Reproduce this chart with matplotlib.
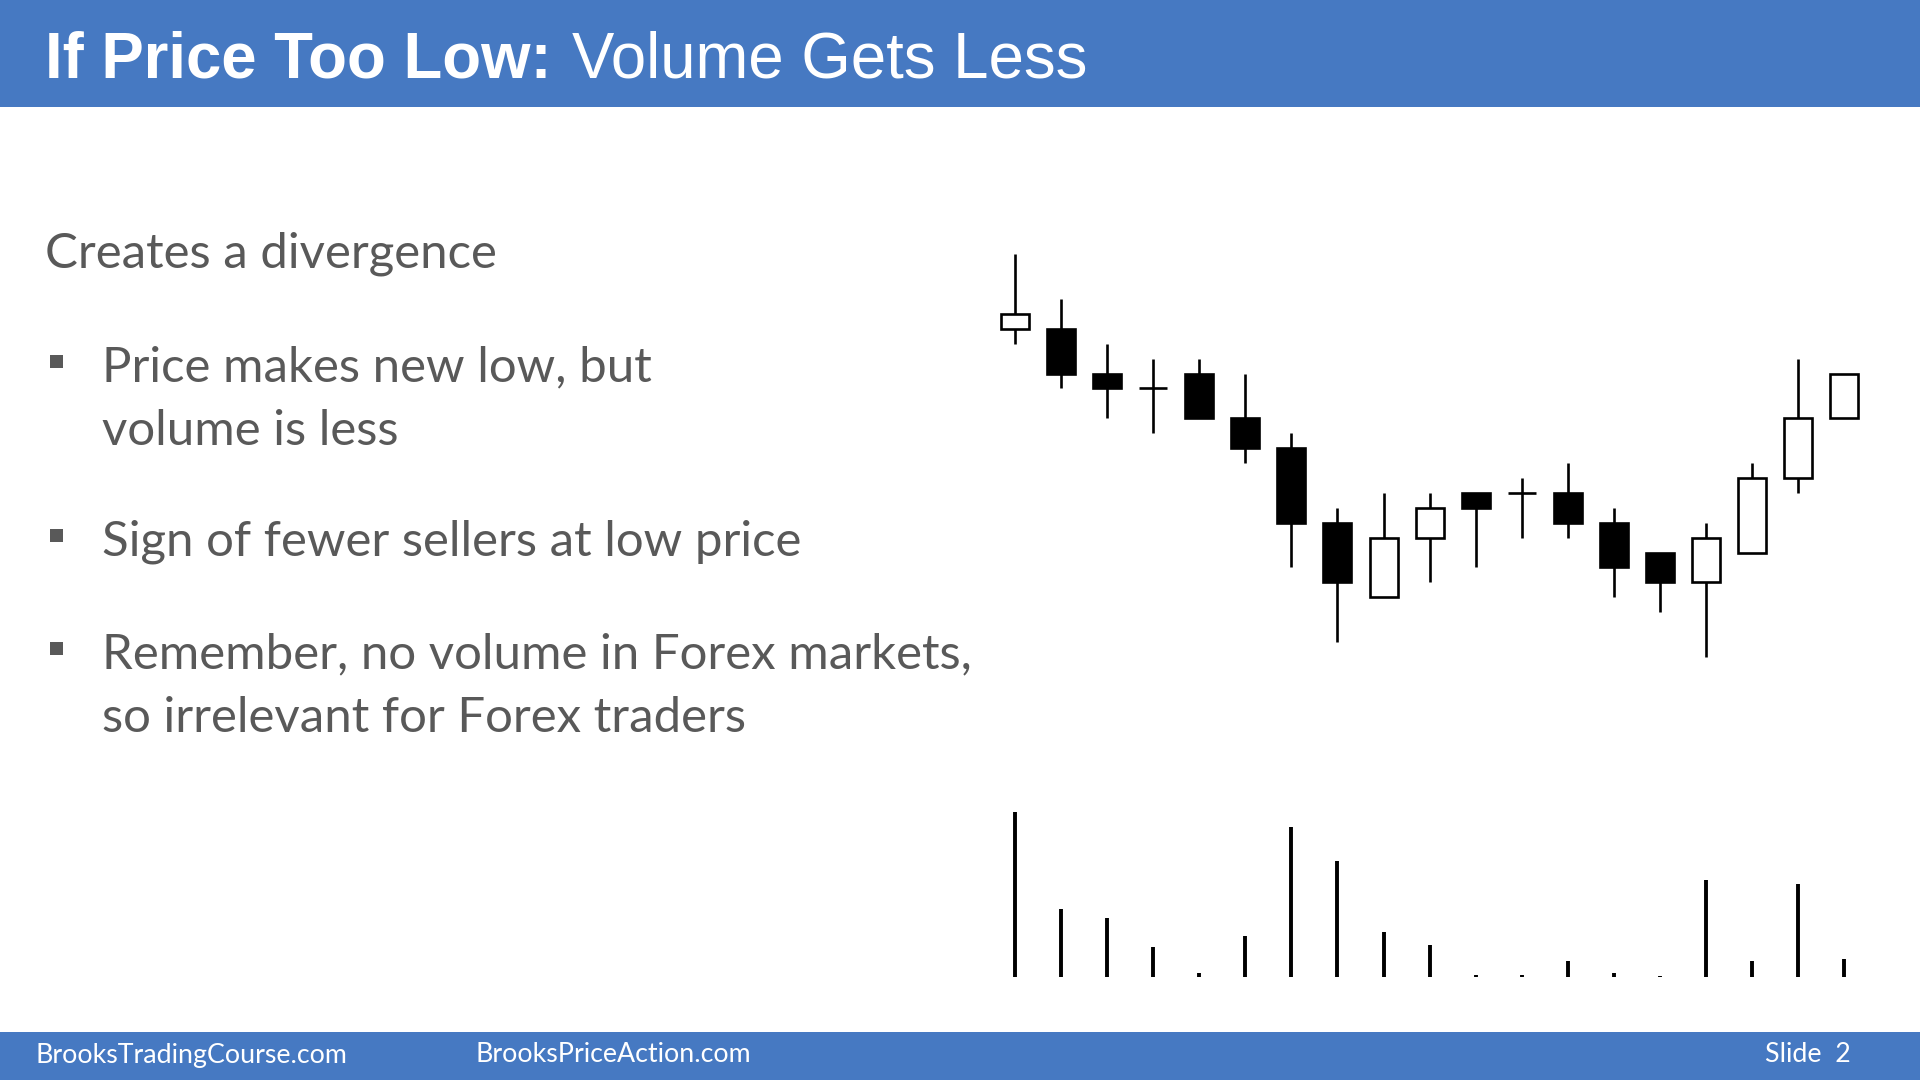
import matplotlib
matplotlib.use("Agg")
import matplotlib.pyplot as plt
from matplotlib.patches import Rectangle

# ---------------- data ----------------
opens  = [22, 22, 19, 18, 19, 16, 14, 9, 4, 8, 11, 11, 11, 9, 7, 5, 7, 12, 16]
highs  = [27, 24, 21, 20, 20, 19, 15, 10, 11, 11, 11, 12, 13, 10, 7, 9, 13, 20, 19]
lows   = [21, 18, 16, 15, 16, 13, 6, 1, 4, 5, 6, 8, 8, 4, 3, 0, 7, 11, 16]
closes = [23, 19, 18, 18, 16, 14, 9, 5, 8, 10, 10, 11, 9, 6, 5, 8, 12, 16, 19]
volumes = [165, 68, 59, 30, 4.3, 41, 150, 116, 45, 32, 2.3, 1.7, 16, 3.7, 0.7, 97, 16, 93, 18]

title_bold = "If Price Too Low:"
title_regular = "Volume Gets Less"
heading = "Creates a divergence"
bullets = [
    ["Price makes new low, but", "volume is less"],
    ["Sign of fewer sellers at low price"],
    ["Remember, no volume in Forex markets,", "so irrelevant for Forex traders"],
]
footer_left = "BrooksTradingCourse.com"
footer_mid = "BrooksPriceAction.com"
footer_right = "Slide  2"

# ---------------- style ----------------
W, H = 1920, 1080
BLUE = "#4679C2"
GREY = "#595959"
BODY_FONT = ["Lato", "DejaVu Sans"]
TITLE_FONT = ["Liberation Sans", "DejaVu Sans"]

fig = plt.figure(figsize=(W / 100, H / 100), dpi=100)
fig.patch.set_facecolor("white")
renderer = fig.canvas.get_renderer()


def fx(px):
    return px / W


def fy(py):  # py measured from top
    return 1 - py / H


def fit_size(txt, target_px):
    bb = txt.get_window_extent(renderer=renderer)
    txt.set_fontsize(txt.get_fontsize() * target_px / bb.width)


# header & footer bands
fig.add_artist(Rectangle((0, fy(107)), 1, 107 / H, transform=fig.transFigure,
                         facecolor=BLUE, edgecolor="none"))
fig.add_artist(Rectangle((0, 0), 1, 48 / H, transform=fig.transFigure,
                         facecolor=BLUE, edgecolor="none"))

# title
tb = fig.text(fx(45), fy(77), title_bold, color="white", fontsize=40,
              fontweight="bold", family=TITLE_FONT, va="baseline")
fit_size(tb, 551 - 45)
tr = fig.text(fx(572), fy(77), title_regular, color="white",
              fontsize=tb.get_fontsize(), family=TITLE_FONT, va="baseline")

# body text
body_size = 30
ref = fig.text(0, 0, bullets[2][0], fontsize=body_size, family=BODY_FONT)
bb = ref.get_window_extent(renderer=renderer)
body_size = body_size * 868 / bb.width
ref.remove()

fig.text(fx(45), fy(268), heading, color=GREY, fontsize=body_size,
         family=BODY_FONT, va="baseline")

baselines = [[381, 445], [555], [668, 732]]
for lines, bls in zip(bullets, baselines):
    # square bullet
    fig.add_artist(Rectangle((fx(50), fy(bls[0] - 13)), 13 / W, 13 / H,
                             transform=fig.transFigure, facecolor=GREY,
                             edgecolor="none"))
    for line, bl in zip(lines, bls):
        fig.text(fx(102), fy(bl), line, color=GREY, fontsize=body_size,
                 family=BODY_FONT, va="baseline")

# footer text
fl = fig.text(fx(35), fy(1055), footer_left, color="white", fontsize=16,
              family=BODY_FONT, va="center")
fit_size(fl, 312)
fm = fig.text(fx(475), fy(1055), footer_mid, color="white",
              fontsize=fl.get_fontsize(), family=BODY_FONT, va="center")
fr = fig.text(fx(1851), fy(1055), footer_right, color="white",
              fontsize=fl.get_fontsize(), family=BODY_FONT, va="center",
              ha="right")

# ---------------- candlestick axes ----------------
step = 46.07          # px per bar
unit = 14.92          # px per price unit
x0_px = 1015          # first bar centre
y0_px = 657           # price 0
xlim = (-0.55, 18.55)
ylim = (-1, 28)
left_px = x0_px + xlim[0] * step
width_px = (xlim[1] - xlim[0]) * step
bottom_px = y0_px - ylim[0] * unit
height_px = (ylim[1] - ylim[0]) * unit
ax = fig.add_axes([fx(left_px), fy(bottom_px), width_px / W, height_px / H])
ax.set_xlim(*xlim)
ax.set_ylim(*ylim)
ax.axis("off")

xs = list(range(len(opens)))
lw = 1.9
ax.vlines(xs, lows, highs, color="black", linewidth=lw, zorder=1)
for x, o, c in zip(xs, opens, closes):
    face = "white" if c >= o else "black"
    ax.bar(x, c - o, bottom=o, width=28 / step, facecolor=face,
           edgecolor="black", linewidth=lw, zorder=2)

# ---------------- volume axes ----------------
vbase = 977
vtop = 170
ax2 = fig.add_axes([fx(left_px), fy(vbase), width_px / W, vtop / H])
ax2.set_xlim(*xlim)
ax2.set_ylim(0, vtop)
ax2.axis("off")
ax2.vlines(xs, 0, volumes, color="black", linewidth=2.8)

fig.savefig("out.png", dpi=100, facecolor="white")
